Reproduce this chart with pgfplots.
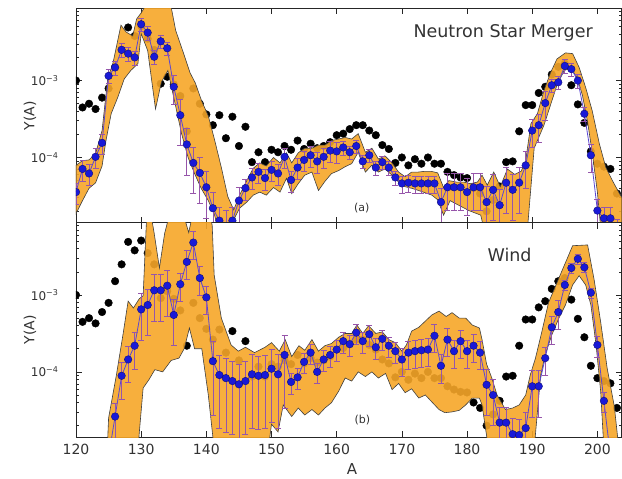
\documentclass[border=0pt]{standalone}
\usepackage{pgfplots}
\pgfplotsset{compat=1.18}
\usepackage{pgfplotstable}
\usepackage{fontspec}
\setmainfont{DejaVu Sans}
\definecolor{bandc}{RGB}{246,166,40}
\definecolor{bluedot}{RGB}{25,25,215}
\definecolor{blueedge}{RGB}{15,15,120}
\definecolor{blueline}{RGB}{90,70,210}
\definecolor{errc}{RGB}{150,85,170}
\definecolor{txt}{RGB}{50,50,50}

\pgfplotstableread{
A Y
120 1.0e-3
121 4.47e-4
122 5.0e-4
123 4.27e-4
124 6.0e-4
125 7.9e-4
126 1.51e-3
127 2.5e-3
128 4.9e-3
129 3.8e-3
130 5.1e-3
131 3.5e-3
132 2.5e-3
133 9.1e-4
134 1.12e-3
135 8.9e-4
136 6.3e-4
137 2.19e-4
138 7.9e-4
139 5.0e-4
140 3.63e-4
141 2.63e-4
142 3.55e-4
143 1.78e-4
144 3.39e-4
145 1.41e-4
146 2.51e-4
147 8.7e-5
148 1.17e-4
149 8.7e-5
150 1.26e-4
151 1.17e-4
152 1.41e-4
153 1.26e-4
154 1.66e-4
155 1.29e-4
156 1.51e-4
157 1.32e-4
158 1.41e-4
159 1.58e-4
160 1.95e-4
161 2.04e-4
162 2.34e-4
163 2.63e-4
164 2.63e-4
165 2.24e-4
166 1.95e-4
167 1.45e-4
168 1.29e-4
169 8.5e-5
170 1.0e-4
171 7.9e-5
172 9.5e-5
173 8.3e-5
174 1.0e-4
175 8.3e-5
176 8.3e-5
177 6.5e-5
178 5.9e-5
179 5.5e-5
180 5.4e-5
181 4.0e-5
182 3.4e-5
183 2.0e-5
184 2.8e-5
185 4.2e-5
186 8.7e-5
187 8.9e-5
188 2.19e-4
189 4.8e-4
190 4.8e-4
191 6.9e-4
192 8.3e-4
193 1.2e-3
194 1.51e-3
195 1.66e-3
196 8.7e-4
197 4.9e-4
198 2.82e-4
199 1.2e-4
200 8.3e-5
201 7.6e-5
202 7.1e-5
203 3.4e-5
204 5.6e-5
}\solar

\pgfplotstableread{
A Y r
120 3.55e-5 0.3
121 7.1e-5 0.3
122 6.2e-5 0.3
123 1.02e-4 0.3
124 1.55e-4 0.3
125 1.15e-3 0.2
126 1.48e-3 0.2
127 2.51e-3 0.2
128 2.24e-3 0.2
129 2.0e-3 0.2
130 5.4e-3 0.2
131 4.2e-3 0.2
132 2.04e-3 0.2
133 3.24e-3 0.2
134 2.63e-3 0.2
135 8.3e-4 0.4
136 3.55e-4 0.6
137 1.48e-4 0.6
138 8.5e-5 0.6
139 6.3e-5 0.6
140 4.1e-5 0.6
141 2.19e-5 0.6
142 1.51e-5 0.5
143 1.38e-5 0.5
144 1.51e-5 0.5
145 2.75e-5 0.5
146 4.0e-5 0.3
147 5.5e-5 0.3
148 6.5e-5 0.3
149 5.4e-5 0.3
150 6.9e-5 0.3
151 6.2e-5 0.3
152 1.02e-4 0.3
153 5.1e-5 0.3
154 7.4e-5 0.3
155 9.3e-5 0.3
156 1.07e-4 0.3
157 8.9e-5 0.3
158 1.02e-4 0.3
159 1.23e-4 0.3
160 1.20e-4 0.3
161 1.35e-4 0.2
162 1.17e-4 0.2
163 1.41e-4 0.2
164 8.9e-5 0.2
165 1.07e-4 0.2
166 7.4e-5 0.2
167 8.7e-5 0.2
168 7.4e-5 0.2
169 5.5e-5 0.2
170 4.6e-5 0.25
171 4.7e-5 0.25
172 4.6e-5 0.25
173 4.6e-5 0.25
174 4.6e-5 0.25
175 4.6e-5 0.25
176 2.63e-5 0.5
177 4.1e-5 0.5
178 4.1e-5 0.5
179 4.1e-5 0.5
180 3.55e-5 0.5
181 4.1e-5 0.5
182 4.1e-5 0.5
183 2.63e-5 0.6
184 3.8e-5 0.6
185 2.4e-5 0.6
186 4.7e-5 0.6
187 3.8e-5 0.6
188 4.7e-5 0.6
189 7.9e-5 0.5
190 2.24e-4 0.4
191 2.63e-4 0.4
192 5.1e-4 0.4
193 8.7e-4 0.2
194 9.5e-4 0.2
195 1.55e-3 0.2
196 1.41e-3 0.2
197 1.0e-3 0.2
198 3.7e-4 0.2
199 1.07e-4 0.4
200 2.04e-5 0.4
201 1.62e-5 0.4
202 1.62e-5 0.4
203 1.12e-5 0.4
}\nsm

\pgfplotstableread{
A Y r
125 8.0e-6 0.5
126 2.63e-5 0.5
127 8.9e-5 0.5
128 1.45e-4 0.5
129 2.19e-4 0.5
130 6.5e-4 0.6
131 7.4e-4 0.6
132 1.15e-3 0.6
133 1.15e-3 0.6
134 1.32e-3 0.6
135 5.5e-4 0.6
136 1.38e-3 0.4
137 2.69e-3 0.4
138 4.8e-3 0.4
139 1.66e-3 0.4
140 9.3e-4 0.4
141 1.38e-4 0.8
142 9.1e-5 0.8
143 8.3e-5 0.8
144 7.6e-5 0.8
145 6.9e-5 0.8
146 7.6e-5 0.8
147 9.3e-5 0.8
148 8.9e-5 0.8
149 9.1e-5 0.8
150 1.10e-4 0.8
151 9.3e-5 0.8
152 1.66e-4 0.8
153 7.4e-5 0.3
154 8.5e-5 0.3
155 1.35e-4 0.3
156 1.78e-4 0.3
157 1.0e-4 0.3
158 1.45e-4 0.3
159 1.66e-4 0.3
160 1.95e-4 0.3
161 2.51e-4 0.3
162 2.29e-4 0.3
163 3.24e-4 0.3
164 2.51e-4 0.3
165 3.09e-4 0.3
166 2.09e-4 0.3
167 2.69e-4 0.3
168 2.19e-4 0.3
169 1.86e-4 0.3
170 1.45e-4 0.4
171 1.78e-4 0.4
172 1.86e-4 0.4
173 1.91e-4 0.4
174 1.95e-4 0.4
175 2.95e-4 0.4
176 1.2e-4 0.4
177 2.63e-4 0.4
178 1.86e-4 0.4
179 2.51e-4 0.4
180 1.86e-4 0.4
181 2.19e-4 0.4
182 1.78e-4 0.4
183 6.8e-5 0.6
184 5.0e-5 0.6
185 2.19e-5 0.6
186 2.19e-5 0.6
187 1.55e-5 0.6
188 1.51e-5 0.6
189 1.86e-5 0.6
190 6.5e-5 0.6
191 6.5e-5 0.6
192 1.51e-4 0.4
193 3.8e-4 0.4
194 6.0e-4 0.4
195 1.35e-3 0.15
196 2.24e-3 0.15
197 2.95e-3 0.15
198 2.29e-3 0.15
199 1.07e-3 0.15
200 2.24e-4 0.3
201 4.2e-5 0.3
202 8.0e-6 0.3
}\wind

\begin{document}
\begin{tikzpicture}
\useasboundingbox (0,0) rectangle (622pt,479pt);

% ---------------- top panel: Neutron Star Merger ----------------
\begin{axis}[at={(76pt,256.3pt)}, anchor=south west,
    width=545.5pt, height=214.4pt, scale only axis,
    ymode=log, clip marker paths=true,
    xmin=120, xmax=203.7, ymin=1.42e-5, ymax=8.7e-3,
    xtick={120,130,...,200}, xticklabels={},
    ytick={1e-4,1e-3},
    yticklabels={10\textsuperscript{−4},10\textsuperscript{−3}},
    minor ytick={2e-5,3e-5,4e-5,5e-5,6e-5,7e-5,8e-5,9e-5,2e-4,3e-4,4e-4,5e-4,6e-4,7e-4,8e-4,9e-4,2e-3,3e-3,4e-3,5e-3,6e-3,7e-3,8e-3},
    tick align=inside, major tick length=6pt, minor tick length=3pt,
    axis line style={black!85, line width=0.8pt},
    every tick/.style={black!85, line width=0.6pt},
    yticklabel style={font=\fontsize{12}{14}\selectfont, text=txt, xshift=-14pt},
    /pgf/number format/assume math mode=true,
    ylabel={Y(A)},
    every axis y label/.style={at={(axis description cs:-0.0843,0.5)}, anchor=center, rotate=90, font=\fontsize{14}{16}\selectfont, text=txt},
  ]
\addplot[only marks, mark=*, mark size=3.8pt, black] table[x=A,y=Y]{\solar};
\addplot[fill=bandc, fill opacity=0.9, draw=black!75, line width=0.6pt] coordinates {
(120,7.9e-5) (121,9.1e-5) (122,9.3e-5) (123,1.12e-4) (124,2.24e-4) (124.9,1.12e-3)
(125.6,1.58e-3) (126.9,5.25e-3) (127.7,4.27e-3) (128.7,3.8e-3) (129.3,6.31e-3)
(130,7.59e-3) (130.5,8.91e-3) (131,1.12e-2) (133,1.58e-2) (134.5,1.0e-2)
(135.3,4.47e-3) (136.4,2.4e-3) (137.5,1.26e-3) (138.3,9.33e-4) (139.3,5.37e-4)
(140.3,3.47e-4) (141.2,1.78e-4) (142.3,7.41e-5) (143.3,3.09e-5) (144.2,2.09e-5)
(145.1,3.24e-5) (146.2,5.01e-5) (147.2,7.24e-5) (148.2,8.51e-5) (149.2,7.76e-5)
(150.3,1.0e-4) (151.3,8.51e-5) (152.3,1.15e-4) (153.1,8.51e-5) (154.1,1.15e-4)
(155.1,1.32e-4) (156.2,1.32e-4) (157.2,1.45e-4) (158.2,1.45e-4) (159.2,1.66e-4)
(160.3,1.74e-4) (161.3,1.82e-4) (162.3,1.74e-4) (163.3,2.04e-4) (164.4,1.17e-4)
(165.4,1.32e-4) (166.4,9.55e-5) (167.4,1.05e-4) (168.5,8.51e-5) (169.5,6.46e-5)
(170.5,5.62e-5) (171.5,6.46e-5) (172.5,6.46e-5) (173.5,6.61e-5) (174.5,6.61e-5)
(175.5,6.31e-5) (176.4,4.07e-5) (177.2,5.01e-5) (178.4,4.79e-5) (179.5,4.79e-5)
(180.5,4.57e-5) (181.6,4.79e-5) (182.3,5.89e-5) (183.1,4.37e-5) (184.1,6.46e-5)
(185.1,4.17e-5) (186.2,7.08e-5) (187.3,6.03e-5) (188.3,6.61e-5) (189.0,9.12e-5)
(189.8,2.75e-4) (190.8,3.72e-4) (191.8,7.41e-4) (192.8,1.26e-3) (193.8,1.91e-3)
(195.1,2.29e-3) (196.2,2.24e-3) (197.2,1.48e-3) (198.2,8.13e-4) (199.2,4.07e-4)
(200.3,1.51e-4) (201.3,7.41e-5) (202.3,5.01e-5) (203.4,3.39e-5) (204,2.75e-5)
(204,1e-5) (200.6,1e-5) (200.0,3.55e-5) (199.2,1.17e-4) (198.5,2.88e-4)
(197.7,6.46e-4) (196.9,1.10e-3) (195.9,1.45e-3) (194.9,1.35e-3) (193.8,8.71e-4)
(192.8,4.79e-4) (191.8,2.63e-4) (190.3,1.32e-4) (189.2,1e-5) (182.8,1e-5)
(182.1,1.78e-5) (180.3,2.04e-5) (178.7,2.40e-5) (177.4,2.75e-5) (176.4,1.78e-5)
(175.5,2.82e-5) (174.6,3.24e-5) (173.6,3.47e-5) (172.6,3.72e-5) (171.5,3.98e-5)
(170.5,4.17e-5) (169.5,4.79e-5) (168.5,5.89e-5) (167.4,7.08e-5) (166.4,6.46e-5)
(165.4,7.94e-5) (164.4,6.46e-5) (163.3,1.17e-4) (162.3,8.32e-5) (161.3,7.59e-5)
(160.3,6.76e-5) (159.2,6.17e-5) (158.2,4.90e-5) (157.2,3.72e-5) (156.2,6.46e-5)
(155.1,5.89e-5) (154.1,4.57e-5) (153.1,3.39e-5) (152.3,5.37e-5) (151.3,3.55e-5)
(150.3,4.07e-5) (149.2,3.24e-5) (148.2,3.55e-5) (147.2,3.24e-5) (146.2,2.63e-5)
(145.1,2.19e-5) (144.3,1.62e-5) (144.0,1e-5) (142.0,1e-5) (141.2,1.86e-5)
(140.3,2.75e-5) (139.2,3.98e-5) (138.2,6.17e-5) (137.2,1.0e-4) (136.2,2.04e-4)
(135.1,5.50e-4) (134.1,1.35e-3) (133.1,9.55e-4) (132.2,4.27e-4) (131.0,2.45e-3)
(130.0,4.07e-3) (129.5,1.66e-3) (128.4,1.35e-3) (127.4,1.05e-3) (126.4,6.03e-4)
(125.4,3.72e-4) (124.6,1.66e-4) (124.0,7.76e-5) (123.0,4.68e-5) (122.0,3.98e-5)
(121.0,2.75e-5) (120.0,1.86e-5)
} -- cycle;
\addplot[blueline, line width=0.8pt, mark=*, mark size=3.8pt,
    mark options={fill=bluedot, draw=blueedge, line width=0.4pt},
    error bars/y dir=both, error bars/y explicit relative,
    error bars/error bar style={errc, line width=0.7pt},
    error bars/error mark options={errc, rotate=90, mark size=3pt, line width=0.7pt}]
    table[x=A,y=Y,y error=r]{\nsm};
\node[anchor=base west, font=\fontsize{17.5}{20}\selectfont, text=txt] at (rel axis cs:0.6123,0.8615) {Neutron Star Merger};
\node[font=\fontsize{11}{13}\selectfont, text=txt] at (rel axis cs:0.524,0.0686) {(a)};
\end{axis}

% ---------------- bottom panel: Wind ----------------
\begin{axis}[at={(76pt,41.9pt)}, anchor=south west,
    width=545.5pt, height=214.4pt, scale only axis,
    ymode=log, clip marker paths=true,
    xmin=120, xmax=203.7, ymin=1.42e-5, ymax=8.7e-3,
    xtick={120,130,...,200},
    ytick={1e-4,1e-3},
    yticklabels={10\textsuperscript{−4},10\textsuperscript{−3}},
    minor ytick={2e-5,3e-5,4e-5,5e-5,6e-5,7e-5,8e-5,9e-5,2e-4,3e-4,4e-4,5e-4,6e-4,7e-4,8e-4,9e-4,2e-3,3e-3,4e-3,5e-3,6e-3,7e-3,8e-3},
    tick align=inside, major tick length=6pt, minor tick length=3pt,
    axis line style={black!85, line width=0.8pt},
    every tick/.style={black!85, line width=0.6pt},
    yticklabel style={font=\fontsize{12}{14}\selectfont, text=txt, xshift=-14pt},
    xticklabel style={font=\fontsize{14}{16}\selectfont, text=txt, yshift=-3pt},
    /pgf/number format/assume math mode=true,
    ylabel={Y(A)},
    every axis y label/.style={at={(axis description cs:-0.0843,0.5)}, anchor=center, rotate=90, font=\fontsize{14}{16}\selectfont, text=txt},
    xlabel={A},
    every axis x label/.style={at={(axis description cs:0.506,-0.149)}, anchor=center, font=\fontsize{15}{17}\selectfont, text=txt},
  ]
\addplot[only marks, mark=*, mark size=3.8pt, black] table[x=A,y=Y]{\solar};
\addplot[fill=bandc, fill opacity=0.9, draw=black!75, line width=0.6pt] coordinates {
(124.8,1e-5) (125.0,2.51e-5) (126.2,9.12e-5) (127.2,3.02e-4) (128.0,8.32e-4)
(128.8,6.76e-4) (129.7,8.91e-4) (130.3,9.77e-4) (130.8,8.71e-3) (131.2,1.58e-2)
(132.0,6.31e-3) (132.8,2.24e-3) (133.6,6.31e-3) (134.5,1.26e-2) (136.3,1.26e-2)
(137.3,6.46e-3) (138.0,1.26e-2) (140.5,1.26e-2) (140.9,7.94e-3) (141.2,1.82e-3)
(142.3,5.01e-4) (143.8,2.24e-4) (144.9,1.86e-4) (146.0,2.09e-4) (147.4,1.78e-4)
(149.0,2.09e-4) (150.0,2.40e-4) (151.2,1.86e-4) (152.1,2.63e-4) (153.1,1.58e-4)
(154.2,2.19e-4) (155.1,1.91e-4) (156.2,2.63e-4) (157.2,1.86e-4) (158.2,2.19e-4)
(159.2,2.34e-4) (160.3,2.82e-4) (161.3,3.16e-4) (162.3,3.16e-4) (163.1,4.07e-4)
(164.0,3.16e-4) (164.9,3.98e-4) (166.0,3.16e-4) (167.0,3.31e-4) (168.0,2.63e-4)
(169.0,2.40e-4) (170.0,1.86e-4) (170.7,2.24e-4) (171.5,3.39e-4) (172.6,3.80e-4)
(173.6,4.57e-4) (174.6,5.50e-4) (175.7,6.17e-4) (176.8,5.25e-4) (177.7,5.89e-4)
(178.8,5.01e-4) (179.8,5.01e-4) (180.8,4.07e-4) (181.9,3.72e-4) (182.3,2.63e-4)
(183.0,1.26e-4) (183.8,8.32e-5) (184.6,5.01e-5) (185.9,3.24e-5) (187.0,3.39e-5)
(188.0,3.72e-5) (189.0,5.01e-5) (189.7,9.12e-5) (190.5,1.51e-4) (191.5,3.39e-4)
(192.5,7.94e-4) (193.5,1.26e-3) (194.5,2.0e-3) (195.5,3.16e-3) (196.2,4.37e-3)
(198.5,4.47e-3) (199.5,1.58e-3) (200.5,4.47e-4) (201.5,1.12e-4) (202.6,3.55e-5)
(203.3,1e-5)
(201.0,1e-5) (200.5,5.62e-5) (199.8,2.24e-4) (199.0,7.41e-4) (198.2,1.35e-3)
(197.2,1.78e-3) (196.2,1.35e-3) (195.1,7.41e-4) (194.1,5.01e-4) (193.0,3.02e-4)
(192.0,1.66e-4) (191.3,9.12e-5) (190.3,1e-5) (183.3,1e-5) (182.3,3.72e-5)
(181.9,4.57e-5) (180.8,4.57e-5) (179.8,3.72e-5) (178.8,3.16e-5) (177.7,3.02e-5)
(176.6,2.95e-5) (175.7,3.24e-5) (174.6,4.07e-5) (173.6,5.01e-5) (172.6,4.57e-5)
(171.5,6.03e-5) (170.5,5.37e-5) (169.5,7.08e-5) (168.5,5.89e-5) (167.5,9.55e-5)
(166.4,8.32e-5) (165.4,1.0e-4) (164.4,8.71e-5) (163.3,1.0e-4) (162.3,7.59e-5)
(161.3,8.32e-5) (160.3,5.62e-5) (159.2,3.98e-5) (158.2,3.39e-5) (157.2,2.75e-5)
(156.2,3.24e-5) (155.1,2.75e-5) (154.1,3.39e-5) (153.1,2.63e-5) (151.8,3.72e-5)
(151.0,1.66e-5) (150.0,2.09e-5) (149.5,1e-5) (141.2,1e-5) (140.3,5.01e-5)
(139.3,2.0e-4) (138.2,2.0e-4) (137.4,3.72e-4) (136.6,2.0e-4) (135.8,1.51e-4)
(134.6,1.41e-4) (133.3,1.0e-4) (132.1,1.07e-4) (131.2,7.94e-5) (130.3,6.17e-5)
(129.5,1e-5)
} -- cycle;
\addplot[blueline, line width=0.8pt, mark=*, mark size=3.8pt,
    mark options={fill=bluedot, draw=blueedge, line width=0.4pt},
    error bars/y dir=both, error bars/y explicit relative,
    error bars/error bar style={errc, line width=0.7pt},
    error bars/error mark options={errc, rotate=90, mark size=3pt, line width=0.7pt}]
    table[x=A,y=Y,y error=r]{\wind};
\node[anchor=base west, font=\fontsize{17.5}{20}\selectfont, text=txt] at (rel axis cs:0.748,0.8195) {Wind};
\node[font=\fontsize{11}{13}\selectfont, text=txt] at (rel axis cs:0.525,0.078) {(b)};
\end{axis}
\end{tikzpicture}
\end{document}
